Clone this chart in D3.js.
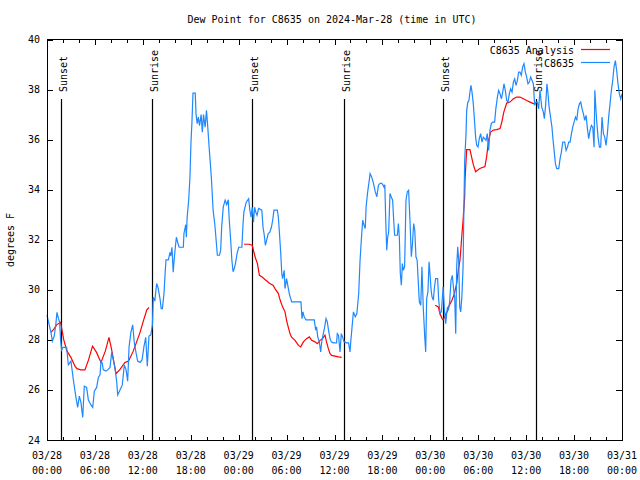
<!DOCTYPE html>
<html><head><meta charset="utf-8">
<script src="https://cdn.jsdelivr.net/npm/d3@7"></script>
<style>body{margin:0;background:#fff}svg{display:block}text{font-family:"DejaVu Sans Mono",monospace;font-size:10px;fill:#000}</style>
</head><body>
<script>
const title = "Dew Point for C8635 on 2024-Mar-28 (time in UTC)";
const yLabel = "degrees F";
const yTicks = [24,26,28,30,32,34,36,38,40];
const xTickHours = [0,6,12,18,24,30,36,42,48,54,60,66,72];
const xTickDates = ["03/28","03/28","03/28","03/28","03/29","03/29","03/29","03/29","03/30","03/30","03/30","03/30","03/31"];
const xTickTimes = ["00:00","06:00","12:00","18:00","00:00","06:00","12:00","18:00","00:00","06:00","12:00","18:00","00:00"];
const sunHours = [1.72,13.19,25.72,37.23,49.63,61.19];
const sunLabels = ["Sunset","Sunrise","Sunset","Sunrise","Sunset","Sunrise"];
const seriesNames = ["C8635 Analysis","C8635"];

const obsHours = [0.0,0.2,0.5,0.67,0.9,1.08,1.25,1.4,1.58,1.7,1.83,2.0,2.46,2.67,3.0,3.3,3.6,3.84,4.05,4.25,4.47,4.67,4.96,5.18,5.5,5.72,5.93,6.22,6.43,6.64,6.76,6.9,7.05,7.39,7.6,7.89,8.1,8.3,8.5,8.72,8.85,9.14,9.43,9.68,9.9,10.1,10.27,10.5,10.73,10.93,11.14,11.35,11.65,11.9,12.15,12.36,12.56,12.77,13.0,13.2,13.31,13.5,13.73,13.9,14.15,14.3,14.45,14.65,14.8,14.9,15.2,15.4,15.5,15.65,15.8,15.95,16.1,16.2,16.4,16.55,17.07,17.15,17.37,17.45,17.55,17.74,17.9,18.03,18.15,18.28,18.56,18.66,18.8,18.95,19.1,19.3,19.45,19.6,19.8,19.97,20.1,20.3,20.47,20.6,20.8,21.0,21.15,21.33,21.6,21.75,21.87,22.07,22.3,22.5,22.7,22.8,23.0,23.15,23.3,23.45,23.6,23.8,24.0,24.4,24.55,24.65,24.8,24.95,25.25,25.4,25.55,25.7,25.85,26.0,26.15,26.3,26.5,26.9,27.05,27.2,27.34,27.5,27.7,27.9,28.1,28.26,28.42,28.84,28.97,29.1,29.26,29.4,29.5,29.7,29.8,30.0,30.15,30.34,30.45,30.64,31.8,31.93,32.05,32.2,32.43,33.47,33.64,33.75,33.9,34.1,34.27,34.4,34.6,34.77,34.94,35.1,35.25,35.44,35.6,35.85,36.26,36.35,36.5,36.69,36.85,37.0,37.2,37.5,37.76,37.94,38.05,38.2,38.37,38.6,38.8,39.03,39.2,39.37,39.53,39.7,39.85,39.96,40.13,40.3,40.46,40.65,40.88,41.1,41.3,41.5,41.72,41.9,42.05,42.2,42.3,42.41,42.54,42.66,42.78,42.95,43.1,43.28,43.4,43.53,43.87,44.0,44.12,44.24,44.37,44.5,44.62,44.78,44.95,45.12,45.28,45.45,45.62,45.75,45.91,46.05,46.2,46.35,46.5,46.62,46.8,46.95,47.12,47.3,47.42,47.54,47.7,47.84,47.97,48.1,48.21,48.38,48.5,48.66,48.91,49.05,49.21,49.38,49.5,49.6,49.75,49.92,50.05,50.15,50.26,50.42,50.59,50.75,50.85,50.93,51.05,51.18,51.3,51.43,51.55,51.68,51.8,51.95,52.1,52.2,52.3,52.47,52.55,52.7,52.83,52.96,53.09,53.22,53.38,53.5,53.67,53.8,53.97,54.13,54.3,54.47,54.63,54.8,54.97,55.13,55.3,55.47,55.63,55.8,56.05,56.2,56.4,56.55,56.73,56.9,57.06,57.22,57.39,57.56,57.72,57.89,58.05,58.23,58.4,58.56,58.73,58.9,59.06,59.22,59.39,59.56,59.73,59.9,60.06,60.23,60.4,60.56,60.73,60.9,61.06,61.23,61.4,61.56,61.73,61.95,62.15,62.28,62.45,62.6,62.72,62.85,63.02,63.23,63.35,63.5,63.66,63.83,64.08,64.25,64.41,64.58,64.83,65.0,65.17,65.33,65.5,65.67,65.83,66.0,66.17,66.33,66.5,66.67,66.83,67.0,67.17,67.33,67.5,67.67,67.83,68.0,68.17,68.34,68.5,68.6,68.72,68.84,69.0,69.17,69.33,69.5,69.67,69.84,70.0,70.17,70.33,70.5,70.67,70.84,71.0,71.17,71.33,71.5,71.67,71.84,72.0];
const obsValues = [29.0,28.7,28.3,27.95,28.15,28.55,29.1,28.9,28.7,28.0,27.6,27.7,27.7,27.0,27.15,26.4,25.75,25.3,25.75,25.5,24.9,26.15,26.1,25.6,25.4,25.3,25.95,26.1,26.5,26.6,27.15,27.1,26.8,26.75,26.8,26.9,27.5,27.2,26.9,26.35,25.8,26.0,26.2,27.0,26.8,26.35,27.7,28.3,28.6,27.9,27.5,27.15,27.1,27.2,27.75,28.1,26.95,28.15,28.2,28.6,29.7,29.55,30.25,30.1,29.65,29.25,29.25,29.85,30.7,31.2,31.2,31.5,31.35,31.7,30.7,31.3,31.8,32.1,31.85,31.7,31.7,32.25,32.6,32.1,32.9,33.58,34.5,35.9,36.7,37.86,37.86,37.03,36.64,36.9,36.56,37.0,36.3,37.0,36.5,37.17,36.64,35.7,34.98,34.38,33.18,32.65,32.1,31.38,31.38,31.6,32.5,33.3,33.58,33.4,33.6,32.9,31.98,31.18,30.72,30.85,31.05,31.45,31.7,31.7,32.65,33.1,33.3,33.5,33.64,33.18,32.9,33.3,32.7,33.3,33.1,32.98,33.25,33.18,32.5,32.2,31.78,31.98,32.25,32.3,32.5,32.78,33.18,33.18,32.9,32.3,31.5,30.65,30.45,30.78,30.05,30.45,30.18,29.85,29.72,29.52,29.52,28.85,29.12,28.92,28.8,28.8,28.39,28.52,28.12,27.92,27.52,27.92,28.25,28.52,28.85,28.72,28.39,28.05,27.92,27.88,27.88,28.25,28.19,27.52,28.25,28.12,27.92,27.88,27.88,27.52,27.98,28.52,29.12,28.92,29.05,29.85,31.18,32.05,32.78,32.58,32.45,33.32,33.85,34.25,34.64,34.51,34.25,33.92,33.72,34.18,34.25,34.25,34.2,34.1,34.2,32.85,31.58,32.1,32.3,33.85,33.72,33.58,32.85,32.18,32.18,32.65,32.1,30.65,30.18,31.05,30.78,30.92,33.58,33.92,33.98,32.78,31.32,31.78,32.65,32.38,31.32,31.18,30.25,29.52,29.38,30.92,29.25,28.12,27.52,29.65,29.92,31.12,30.58,29.98,29.72,29.58,30.05,30.45,30.45,29.58,29.05,29.12,29.65,30.12,29.25,28.65,29.05,29.32,29.18,29.52,30.38,30.58,30.25,29.98,29.72,28.25,30.92,31.72,31.18,29.32,29.12,29.72,30.92,33.18,35.17,36.24,37.17,37.5,37.56,37.9,38.17,37.9,37.43,36.9,36.1,35.77,35.7,36.04,36.24,35.9,36.1,36.04,35.97,36.24,35.57,36.37,36.64,36.7,36.7,37.23,37.7,37.97,37.83,37.63,37.9,38.23,37.97,37.56,37.5,37.83,38.03,37.9,38.3,38.43,38.17,38.37,38.7,38.7,38.57,38.9,39.03,38.7,38.5,38.23,38.3,38.5,38.37,38.23,37.37,37.5,37.5,37.23,37.97,37.3,37.1,36.84,37.43,38.23,37.9,37.37,36.97,36.5,36.04,35.57,35.04,34.84,34.84,35.24,35.5,35.9,35.9,35.57,35.7,35.9,35.9,36.24,36.5,36.7,36.9,36.77,37.23,37.43,37.5,37.23,37.03,36.77,36.97,36.44,36.04,36.37,36.57,36.5,35.7,37.97,37.3,36.7,36.1,35.7,35.7,36.9,36.24,36.1,35.77,36.24,36.9,37.43,37.97,38.37,38.9,39.16,38.77,38.23,37.83,37.63,37.83];

const anaHours = [0.5,0.9,1.2,1.7,2.1,2.5,3.0,3.5,3.75,4.25,4.75,5.2,5.7,6.2,6.76,7.3,7.76,8.1,8.64,9.1,9.76,10.2,10.8,11.2,11.65,12.06,12.5,12.77,18.0,24.67,25.3,25.7,26.05,26.35,26.6,26.9,27.4,27.9,28.3,28.55,28.97,29.2,29.5,29.8,30.0,30.2,30.43,30.6,31.06,31.48,31.77,32.1,32.5,32.85,33.14,33.56,33.85,34.18,34.5,34.81,35.0,35.23,35.44,35.65,36.06,36.48,36.9,42.0,48.6,49.0,49.2,49.47,49.6,49.8,49.95,50.1,50.3,50.5,50.7,50.95,51.3,51.5,51.71,51.9,52.1,52.3,52.35,52.55,52.96,53.38,53.67,54.2,54.84,55.05,55.3,55.55,55.9,56.3,56.73,56.95,57.2,57.56,57.97,58.4,58.81,59.22,59.65,60.06,60.48,60.98];
const anaValues = [28.3,28.45,28.6,28.7,28.0,27.55,27.3,26.95,26.85,26.8,26.8,27.2,27.75,27.5,27.1,27.55,28.1,27.6,26.65,26.8,27.1,27.15,27.55,27.9,28.3,28.75,29.2,29.3,null,31.82,31.82,31.78,31.32,31.05,30.58,30.52,30.38,30.25,30.18,30.05,29.85,29.58,29.32,29.12,28.78,28.52,28.25,28.12,27.98,27.78,27.72,27.92,28.05,28.12,27.98,27.92,27.85,27.98,28.05,28.19,27.92,27.65,27.45,27.38,27.35,27.32,27.3,null,29.38,29.32,29.05,28.85,28.8,28.92,29.05,29.12,29.32,29.45,29.58,29.78,30.25,30.78,31.18,31.98,32.78,33.72,34.44,35.6,35.6,35.0,34.72,34.85,34.92,35.32,35.98,36.3,36.38,36.4,36.44,36.7,37.1,37.46,37.5,37.63,37.7,37.7,37.63,37.56,37.5,37.43];

const W = 640, H = 480;
const L = 47, R = 622, T = 39.5, B = 440;
const svg = d3.select("body").append("svg").attr("width", W).attr("height", H);

const x = d3.scaleLinear().domain([0, 72]).range([L, R]);
const y = d3.scaleLinear().domain([24, 40]).range([B, T]);

// title
svg.append("text").attr("x", 332).attr("y", 23).attr("text-anchor", "middle").text(title);
// y label
svg.append("text").attr("transform", "translate(14,240) rotate(-90)").attr("text-anchor", "middle").text(yLabel);

// axes via d3.axis (ticks inward)
const minorHours = d3.range(0, 73, 2);
const g = svg.append("g").attr("shape-rendering", "crispEdges");
function styleAxis(sel) { sel.select(".domain").remove(); sel.selectAll("line").attr("stroke", "#000"); sel.selectAll("text").remove(); }
g.append("g").attr("transform", `translate(${L},0)`).call(d3.axisRight(y).tickValues(yTicks).tickSize(6)).call(styleAxis);
g.append("g").attr("transform", `translate(${R},0)`).call(d3.axisLeft(y).tickValues(yTicks).tickSize(6)).call(styleAxis);
g.append("g").attr("transform", `translate(0,${B})`).call(d3.axisTop(x).tickValues(minorHours).tickSize(3)).call(styleAxis);
g.append("g").attr("transform", `translate(0,${T})`).call(d3.axisBottom(x).tickValues(minorHours).tickSize(3)).call(styleAxis);
g.append("g").attr("transform", `translate(0,${B})`).call(d3.axisTop(x).tickValues(xTickHours).tickSize(5)).call(styleAxis);
g.append("g").attr("transform", `translate(0,${T})`).call(d3.axisBottom(x).tickValues(xTickHours).tickSize(5)).call(styleAxis);

// tick labels
svg.append("g").selectAll("text").data(yTicks).join("text")
  .attr("x", L - 7).attr("y", d => y(d) + 3.5).attr("text-anchor", "end").text(d => d);
const xl = svg.append("g").selectAll("g").data(xTickHours).join("g");
xl.append("text").attr("x", d => x(d)).attr("y", 459).attr("text-anchor", "middle").text((d, i) => xTickDates[i]);
xl.append("text").attr("x", d => x(d)).attr("y", 474).attr("text-anchor", "middle").text((d, i) => xTickTimes[i]);

// sunrise/sunset
const sg = svg.append("g");
sg.selectAll("line").data(sunHours).join("line")
  .attr("x1", d => Math.round(x(d)) + 0.5).attr("x2", d => Math.round(x(d)) + 0.5)
  .attr("y1", 99).attr("y2", B).attr("stroke", "#000").attr("stroke-width", 1.2);
sg.selectAll("text").data(sunHours).join("text")
  .attr("transform", d => `translate(${Math.round(x(d)) + 5.5},92) rotate(-90)`)
  .attr("text-anchor", "start").text((d, i) => sunLabels[i]);

// series
const obs = obsHours.map((h, i) => ({ h, v: obsValues[i] }));
const ana = anaHours.map((h, i) => ({ h, v: anaValues[i] }));
const line = d3.line().defined(d => d.v != null).x(d => x(d.h)).y(d => y(d.v));
svg.append("path").datum(ana).attr("d", line).attr("fill", "none").attr("stroke", "#ff0000").attr("stroke-width", 1.2);
svg.append("path").datum(obs).attr("d", line).attr("fill", "none").attr("stroke", "#1e88ff").attr("stroke-width", 1.2);

// legend
const colors = ["#ff0000", "#1e88ff"];
const lg = svg.append("g").selectAll("g").data(seriesNames).join("g");
lg.append("text").attr("x", 574).attr("y", (d, i) => 53.5 + i * 13).attr("text-anchor", "end").text(d => d);
lg.append("line").attr("x1", 581).attr("x2", 610).attr("y1", (d, i) => 49.5 + i * 13).attr("y2", (d, i) => 49.5 + i * 13)
  .attr("stroke", (d, i) => colors[i]).attr("stroke-width", 1.2);

// border
svg.append("rect").attr("x", L).attr("y", T).attr("width", R - L).attr("height", B - T)
  .attr("fill", "none").attr("stroke", "#000").attr("shape-rendering", "crispEdges");
</script>
</body></html>
